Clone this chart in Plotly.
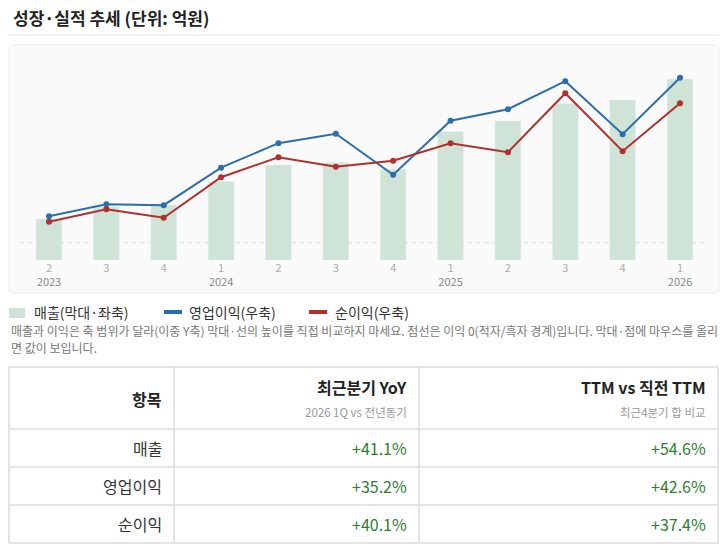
import plotly.graph_objects as go

W, H = 727, 553

# ---- data ----
quarters = ["2", "3", "4", "1", "2", "3", "4", "1", "2", "3", "4", "1"]
years = ["2023", "", "", "2024", "", "", "", "2025", "", "", "", "2026"]
revenue = [410, 533, 550, 783, 950, 973, 907, 1283, 1390, 1563, 1600, 1810]
op_profit = [53, 77, 75, 150, 199, 218, 136, 244, 267, 323, 217, 330]
net_profit = [42, 67, 50, 131, 171, 152, 164, 199, 181, 299, 183, 279]

row_labels = ["매출", "영업이익", "순이익"]
yoy_values = ["+41.1%", "+35.2%", "+40.1%"]
ttm_values = ["+54.6%", "+42.6%", "+37.4%"]
header_titles = ["항목", "최근분기 YoY", "TTM vs 직전 TTM"]
header_subs = ["", "2026 1Q vs 전년동기", "최근4분기 합 비교"]

legend_names = ["매출(막대·좌축)", "영업이익(우축)", "순이익(우축)"]
title_text = "성장·실적 추세 (단위: 억원)"
note_lines = [
    "매출과 이익은 축 범위가 달라(이중 Y축) 막대·선의 높이를 직접 비교하지 마세요. 점선은 이익 0(적자/흑자 경계)입니다. 막대·점에 마우스를 올리",
    "면 값이 보입니다.",
]

# ---- styles ----
FONT = "Noto Sans CJK KR, Noto Sans, sans-serif"
BAR_C = "#cfe3d6"
OP_C = "#2c6eaa"
NP_C = "#b0302e"
POS_C = "#2e7d32"


def fx(px):
    return px / W


def fy(py):
    return 1 - py / H


idx = list(range(len(quarters)))
tick_text = [q + ("<br><span style='color:#888'>%s</span>" % y if y else "")
             for q, y in zip(quarters, years)]

fig = go.Figure()
fig.add_trace(go.Bar(x=idx, y=revenue, name=legend_names[0], marker_color=BAR_C,
                     width=0.45, yaxis="y"))
fig.add_trace(go.Scatter(x=idx, y=op_profit, name=legend_names[1], yaxis="y2",
                         mode="lines+markers", line=dict(color=OP_C, width=2),
                         marker=dict(color=OP_C, size=6)))
fig.add_trace(go.Scatter(x=idx, y=net_profit, name=legend_names[2], yaxis="y2",
                         mode="lines+markers", line=dict(color=NP_C, width=2),
                         marker=dict(color=NP_C, size=6)))

shapes = []
ann = []

# title + separator
ann.append(dict(x=fx(11), y=fy(17), xref="paper", yref="paper", xanchor="left",
                yanchor="middle", showarrow=False, text="<b>%s</b>" % title_text,
                font=dict(size=17, color="#222")))
shapes.append(dict(type="line", xref="paper", yref="paper", x0=fx(8), x1=fx(719),
                   y0=fy(35), y1=fy(35), line=dict(color="#e6e6e6", width=1)))

# panel (rounded rect)
x0, x1, y0, y1, r = 9, 719, 45, 293, 5
def P(px, py):
    return "%.5f,%.5f" % (fx(px), fy(py))
path = ("M " + P(x0 + r, y0) + " L " + P(x1 - r, y0) + " Q " + P(x1, y0) + " " + P(x1, y0 + r)
        + " L " + P(x1, y1 - r) + " Q " + P(x1, y1) + " " + P(x1 - r, y1)
        + " L " + P(x0 + r, y1) + " Q " + P(x0, y1) + " " + P(x0, y1 - r)
        + " L " + P(x0, y0 + r) + " Q " + P(x0, y0) + " " + P(x0 + r, y0) + " Z")
shapes.append(dict(type="path", xref="paper", yref="paper", path=path, layer="below",
                   fillcolor="#fafafa", line=dict(color="#ececec", width=1)))

# zero line of profit axis
shapes.append(dict(type="line", xref="x domain", yref="y2", x0=0, x1=1, y0=0, y1=0,
                   line=dict(color="#d8d8d8", width=1, dash="4px,4px"), layer="below"))

# legend
ly = 312
shapes.append(dict(type="rect", xref="paper", yref="paper", x0=fx(9), x1=fx(25),
                   y0=fy(308), y1=fy(318), fillcolor=BAR_C, line=dict(width=0)))
shapes.append(dict(type="line", xref="paper", yref="paper", x0=fx(164), x1=fx(182),
                   y0=fy(ly), y1=fy(ly), line=dict(color=OP_C, width=4)))
shapes.append(dict(type="line", xref="paper", yref="paper", x0=fx(309), x1=fx(327),
                   y0=fy(ly), y1=fy(ly), line=dict(color=NP_C, width=4)))
for xp, name in zip([32, 187, 333], legend_names):
    ann.append(dict(x=fx(xp), y=fy(ly), xref="paper", yref="paper", xanchor="left",
                    yanchor="middle", showarrow=False, text=name,
                    font=dict(size=14, color="#333")))

# note
for yp, line in zip([330, 347], note_lines):
    ann.append(dict(x=fx(9), y=fy(yp), xref="paper", yref="paper", xanchor="left",
                    yanchor="middle", showarrow=False, text=line,
                    font=dict(size=12, color="#777")))

# table
tl, tr, tt, tb = 9, 718, 367, 543
col_edges = [tl, 174, 419, tr]
row_edges = [tt, 429, 467, 505, tb]
bc = "#dddddd"
shapes.append(dict(type="rect", xref="paper", yref="paper", x0=fx(tl), x1=fx(tr),
                   y0=fy(tt), y1=fy(tb), line=dict(color=bc, width=1.5)))
for cx in col_edges[1:-1]:
    shapes.append(dict(type="line", xref="paper", yref="paper", x0=fx(cx), x1=fx(cx),
                       y0=fy(tt), y1=fy(tb), line=dict(color=bc, width=1.5)))
for ry in row_edges[1:-1]:
    shapes.append(dict(type="line", xref="paper", yref="paper", x0=fx(tl), x1=fx(tr),
                       y0=fy(ry), y1=fy(ry), line=dict(color=bc, width=1.5)))

right_x = [c - 10 for c in col_edges[1:]]
# header
for j, (t, s) in enumerate(zip(header_titles, header_subs)):
    if s:
        ann.append(dict(x=fx(right_x[j]), y=fy(387), xref="paper", yref="paper",
                        xanchor="right", yanchor="middle", showarrow=False,
                        text="<b>%s</b>" % t, font=dict(size=16, color="#222")))
        ann.append(dict(x=fx(right_x[j]), y=fy(412), xref="paper", yref="paper",
                        xanchor="right", yanchor="middle", showarrow=False,
                        text=s, font=dict(size=11.5, color="#999")))
    else:
        ann.append(dict(x=fx(right_x[j]), y=fy((row_edges[0] + row_edges[1]) / 2 + 1),
                        xref="paper", yref="paper", xanchor="right", yanchor="middle",
                        showarrow=False, text="<b>%s</b>" % t,
                        font=dict(size=16, color="#222")))
# body
for i in range(len(row_labels)):
    cy = (row_edges[i + 1] + row_edges[i + 2]) / 2
    cells = [(row_labels[i], "#333"), (yoy_values[i], POS_C), (ttm_values[i], POS_C)]
    for j, (txt, col) in enumerate(cells):
        ann.append(dict(x=fx(right_x[j]), y=fy(cy), xref="paper", yref="paper",
                        xanchor="right", yanchor="middle", showarrow=False, text=txt,
                        font=dict(size=16, color=col)))

fig.update_layout(
    width=W, height=H, margin=dict(l=0, r=0, t=0, b=0),
    paper_bgcolor="white", plot_bgcolor="rgba(0,0,0,0)",
    font=dict(family=FONT),
    showlegend=False,
    xaxis=dict(domain=[fx(20.3), fx(708.7)], range=[-0.5, 11.5], tickmode="array",
               tickvals=idx, ticktext=tick_text, showgrid=False, zeroline=False,
               showline=False, ticks="", tickfont=dict(size=11, color="#aaa"),
               fixedrange=True),
    yaxis=dict(domain=[fy(260), fy(60)], range=[0, 2000], visible=False,
               showgrid=False, zeroline=False, fixedrange=True),
    yaxis2=dict(domain=[fy(260), fy(60)], range=[-34.6, 365.4], overlaying="y",
                side="right", visible=False, showgrid=False, zeroline=False,
                fixedrange=True),
    shapes=shapes, annotations=ann,
)

fig.write_html("out.html")
